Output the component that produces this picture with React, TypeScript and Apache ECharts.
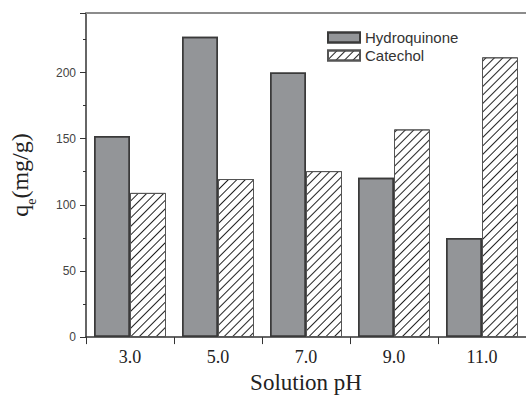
import React, { useEffect, useRef } from "react";
import * as echarts from "echarts";

const categories = ["3.0", "5.0", "7.0", "9.0", "11.0"];
const hydroquinone = [152, 227, 200, 120.5, 75];
const catechol = [109, 119.5, 125.5, 157, 211.5];

export default function App() {
  const ref = useRef<HTMLDivElement>(null);
  useEffect(() => {
    const chart = echarts.init(ref.current!, null, { renderer: "svg" });
    const serif = "'Liberation Serif', 'Times New Roman', serif";
    const sans = "'Liberation Sans', Arial, sans-serif";
    chart.setOption({
      animation: false,
      aria: { enabled: true, decal: { show: true } },
      grid: { left: 86, top: 13, width: 445, height: 331 },
      legend: {
        orient: "vertical",
        left: 322,
        top: 25,
        itemWidth: 32,
        itemHeight: 10,
        itemGap: 3,
        icon: "rect",
        textStyle: { fontFamily: sans, fontSize: 15, color: "#333", lineHeight: 15 },
        data: ["Hydroquinone", "Catechol"],
      },
      xAxis: [
        {
          type: "category",
          data: categories,
          position: "bottom",
          boundaryGap: true,
          axisLine: { lineStyle: { color: "#333", width: 1.5 } },
          axisTick: { show: true, length: 7, inside: false, lineStyle: { color: "#333" } },
          axisLabel: { fontFamily: serif, fontSize: 18, color: "#222", margin: 11 },
          name: "Solution pH",
          nameLocation: "middle",
          nameGap: 33,
          nameTextStyle: { fontFamily: serif, fontSize: 23, color: "#222" },
        },
        {
          type: "category",
          data: categories,
          position: "top",
          axisLine: { onZero: false, lineStyle: { color: "#8c8c8c", width: 2 } },
          axisTick: { show: false },
          axisLabel: { show: false },
        },
      ],
      yAxis: {
        type: "value",
        min: 0,
        max: 245,
        interval: 50,
        axisLine: { show: true, lineStyle: { color: "#333", width: 1.5 } },
        axisTick: { show: true, length: 6, lineStyle: { color: "#333" } },
        minorTick: { show: true, splitNumber: 2, length: 3, lineStyle: { color: "#333" } },
        splitLine: { show: false },
        axisLabel: { fontFamily: sans, fontSize: 12, color: "#444", margin: 10, showMaxLabel: false },
        name: "{q|q}{e|e}{q|(mg/g)}",
        nameLocation: "middle",
        nameGap: 48,
        nameTextStyle: {
          fontFamily: serif,
          color: "#222",
          rich: {
            q: { fontFamily: serif, fontSize: 24, color: "#222", lineHeight: 26 },
            e: { fontFamily: serif, fontSize: 14, color: "#222", lineHeight: 36, verticalAlign: "bottom" },
          },
        },
      },
      series: [
        {
          name: "Hydroquinone",
          type: "bar",
          data: hydroquinone,
          barWidth: 36,
          barGap: "0%",
          itemStyle: {
            color: "#939598",
            borderColor: "#3a3a3a",
            borderWidth: 1.5,
            decal: { symbol: "none" },
          },
        },
        {
          name: "Catechol",
          type: "bar",
          data: catechol,
          barWidth: 36,
          barGap: "0%",
          itemStyle: {
            color: "#ffffff",
            borderColor: "#555",
            borderWidth: 1,
            decal: {
              symbol: "rect",
              symbolSize: 1,
              color: "#222",
              dashArrayX: [1, 0],
              dashArrayY: [1, 5],
              rotation: -Math.PI / 4,
            },
          },
        },
      ],
    });
    return () => chart.dispose();
  }, []);
  return (
    <div
      ref={ref}
      style={{ position: "absolute", left: 0, top: 0, width: 526, height: 399, background: "#fff" }}
    />
  );
}
